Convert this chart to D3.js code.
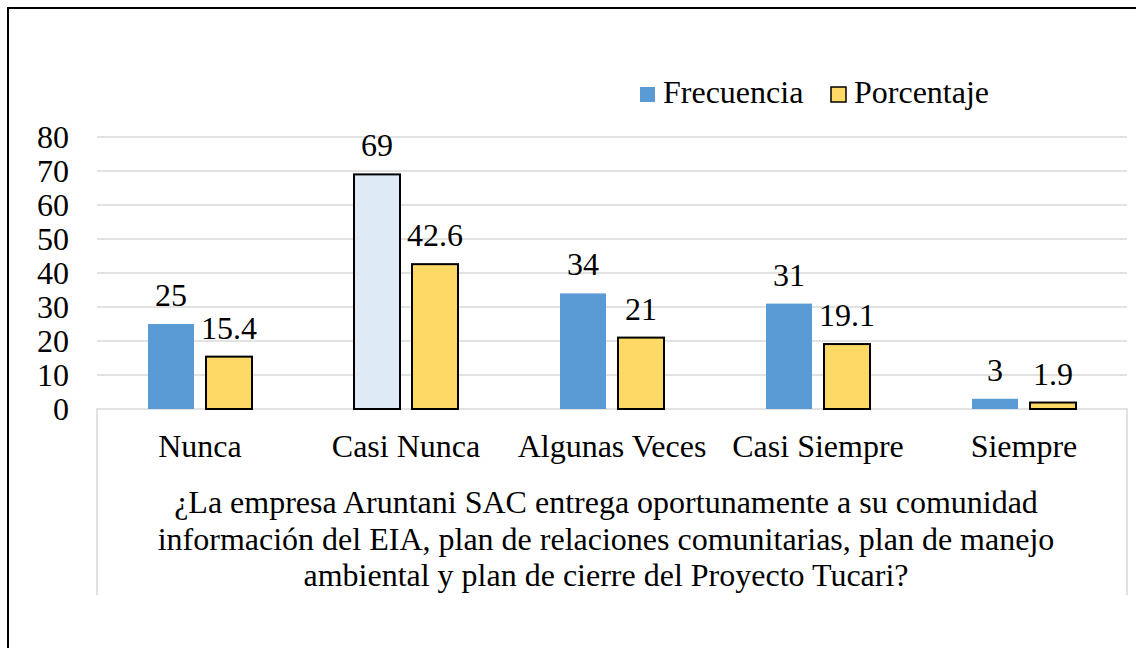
<!DOCTYPE html>
<html>
<head>
<meta charset="utf-8">
<script src="https://cdn.jsdelivr.net/npm/d3@7"></script>
<style>
  body { margin: 0; background: #fff; }
  svg text { font-family: "Liberation Serif", "Times New Roman", serif; fill: #000; }
</style>
</head>
<body>
<script>
// chart data
var categories = ["Nunca", "Casi Nunca", "Algunas Veces", "Casi Siempre", "Siempre"];
var frecuencia = [25, 69, 34, 31, 3];
var porcentaje = [15.4, 42.6, 21, 19.1, 1.9];
var seriesNames = ["Frecuencia", "Porcentaje"];
var yTicks = [0, 10, 20, 30, 40, 50, 60, 70, 80];
var titleLines = [
  "¿La empresa Aruntani SAC entrega oportunamente a su comunidad",
  "información del EIA, plan de relaciones comunitarias, plan de manejo",
  "ambiental y plan de cierre del Proyecto Tucari?"
];

var width = 1136, height = 648;
var fs = "32px";

var svg = d3.select("body").append("svg")
    .attr("width", width)
    .attr("height", height);

// outer frame (only top and left edges are inside the picture)
svg.append("path")
    .attr("d", "M8,648 L8,8 L1136,8")
    .attr("fill", "none")
    .attr("stroke", "#000")
    .attr("stroke-width", 2);

var plotLeft = 97, plotRight = 1127, plotTop = 137, plotBottom = 409;

var x0 = d3.scaleBand().domain(categories).range([plotLeft, plotRight]);
var x1 = d3.scaleBand().domain(seriesNames).range([-52, 52]).paddingInner(0.207);
var y = d3.scaleLinear().domain([0, 80]).range([plotBottom, plotTop]);

// gridlines
svg.append("g").selectAll("line")
    .data(yTicks.filter(function(d) { return d > 0; }))
  .enter().append("line")
    .attr("x1", plotLeft).attr("x2", plotRight)
    .attr("y1", function(d) { return y(d); })
    .attr("y2", function(d) { return y(d); })
    .attr("stroke", "#d9d9d9")
    .attr("stroke-width", 1.5);

// y tick labels
svg.append("g").selectAll("text")
    .data(yTicks)
  .enter().append("text")
    .attr("x", 69)
    .attr("y", function(d) { return y(d); })
    .attr("dy", "0.35em")
    .attr("text-anchor", "end")
    .style("font-size", fs)
    .text(function(d) { return d; });

// the grey box under the axis (category labels + question)
svg.append("path")
    .attr("d", "M" + plotLeft + ",595 L" + plotLeft + "," + plotBottom +
               " L" + plotRight + "," + plotBottom + " L" + plotRight + ",595")
    .attr("fill", "none")
    .attr("stroke", "#d9d9d9")
    .attr("stroke-width", 1.5);

var rows = categories.map(function(c, i) {
  return { cat: c, values: [
    { key: "Frecuencia", value: frecuencia[i], idx: i },
    { key: "Porcentaje", value: porcentaje[i], idx: i }
  ]};
});

function fillFor(d) {
  if (d.key == "Porcentaje") return "#ffd966";
  return d.idx == 1 ? "#deebf7" : "#5b9bd5";
}
function strokeFor(d) {
  if (d.key == "Porcentaje" || d.idx == 1) return "#000";
  return "none";
}

var groups = svg.append("g").selectAll("g")
    .data(rows)
  .enter().append("g")
    .attr("transform", function(d) { return "translate(" + (x0(d.cat) + x0.bandwidth() / 2) + ",0)"; });

groups.selectAll("rect")
    .data(function(d) { return d.values; })
  .enter().append("rect")
    .attr("x", function(d) { return x1(d.key); })
    .attr("width", x1.bandwidth())
    .attr("y", function(d) { return y(d.value); })
    .attr("height", function(d) { return y(0) - y(d.value); })
    .attr("fill", fillFor)
    .attr("stroke", strokeFor)
    .attr("stroke-width", 2);

// value labels
groups.selectAll("text")
    .data(function(d) { return d.values; })
  .enter().append("text")
    .attr("x", function(d) { return x1(d.key) + x1.bandwidth() / 2; })
    .attr("y", function(d) { return y(d.value) - 18; })
    .attr("text-anchor", "middle")
    .style("font-size", fs)
    .text(function(d) { return d.value; });

// category labels
svg.append("g").selectAll("text")
    .data(categories)
  .enter().append("text")
    .attr("x", function(d) { return x0(d) + x0.bandwidth() / 2; })
    .attr("y", 457)
    .attr("text-anchor", "middle")
    .style("font-size", fs)
    .text(function(d) { return d; });

// question under the categories
svg.append("g").selectAll("text")
    .data(titleLines)
  .enter().append("text")
    .attr("x", 606)
    .attr("y", function(d, i) { return 513 + i * 36.5; })
    .attr("text-anchor", "middle")
    .style("font-size", fs)
    .text(function(d) { return d; });

// legend
var legend = svg.append("g");
var legendX = [640, 831];
seriesNames.forEach(function(name, i) {
  legend.append("rect")
    .attr("x", legendX[i]).attr("y", 87)
    .attr("width", 15).attr("height", 15)
    .attr("fill", i == 0 ? "#5b9bd5" : "#ffd966")
    .attr("stroke", i == 0 ? "none" : "#000")
    .attr("stroke-width", 1.5);
  legend.append("text")
    .attr("x", legendX[i] + 23).attr("y", 103)
    .style("font-size", fs)
    .text(name);
});
</script>
</body>
</html>
